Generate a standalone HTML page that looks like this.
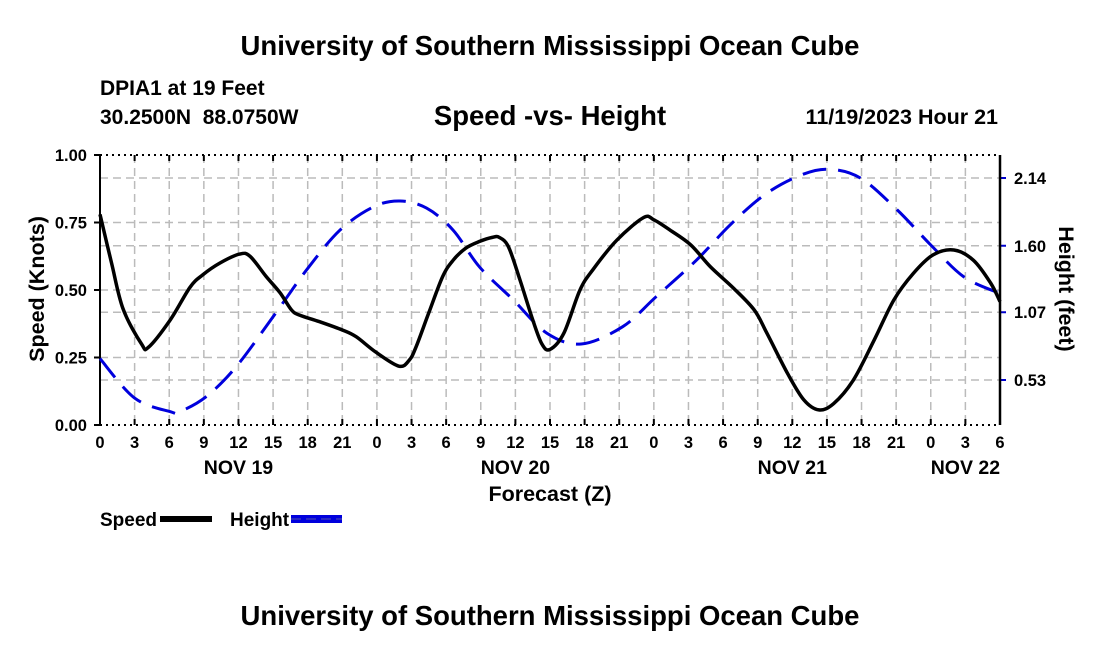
<!DOCTYPE html>
<html><head><meta charset="utf-8"><style>
body{margin:0;background:#fff;width:1100px;height:650px;overflow:hidden}
svg text{font-family:"Liberation Sans",Arial,sans-serif;font-weight:bold;fill:#000}
</style></head><body>
<svg id="chart" width="1100" height="650" xmlns="http://www.w3.org/2000/svg">
<text x="550" y="55" font-size="27.5" text-anchor="middle">University of Southern Mississippi Ocean Cube</text>
<text x="100" y="95" font-size="21">DPIA1 at 19 Feet</text>
<text x="100" y="124" font-size="21">30.2500N&#160;&#160;88.0750W</text>
<text x="550" y="125" font-size="27.5" text-anchor="middle">Speed -vs- Height</text>
<text x="998" y="124" font-size="21.5" text-anchor="end">11/19/2023 Hour 21</text>
<text transform="translate(44,289) rotate(-90)" font-size="21.5" text-anchor="middle">Speed (Knots)</text>
<text transform="translate(1059,289) rotate(90)" font-size="21.5" text-anchor="middle">Height (feet)</text>
<text x="550" y="501" font-size="21.5" text-anchor="middle">Forecast (Z)</text>
<g id="grid"></g><g id="axes"></g><g id="series"></g>
<g>
<text x="100" y="526" font-size="19">Speed</text>
<rect x="160" y="516" width="52" height="6" fill="#000"/>
<text x="230" y="526" font-size="19">Height</text>
<rect x="291" y="515" width="51" height="8" fill="#0000dd"/>
<line x1="291" y1="519" x2="342" y2="519" stroke="#5555aa" stroke-width="1" stroke-dasharray="10 5"/>
</g>
<text x="550" y="625" font-size="27.5" text-anchor="middle">University of Southern Mississippi Ocean Cube</text>
</svg>
<script>
const speedHours=[0,1,2,3.6,4.2,6.1,7.8,8.9,10.4,12.1,13,14.4,15.6,16.6,17.3,19,21,22.2,23.9,25.9,26.8,27.4,28.5,29.7,30.6,31.7,32.9,34,34.6,35.4,36.4,37.5,38.3,39,40.2,41.6,42.8,44.8,47.1,48,49.4,51.2,52.9,54.9,56.7,57.8,59.6,61,62.3,63.6,65.3,67.1,68.8,70.5,72.2,74,75.7,77.2,78];
const speedValues=[0.78,0.6,0.43,0.3,0.288,0.39,0.51,0.556,0.6,0.633,0.625,0.55,0.49,0.426,0.407,0.383,0.352,0.327,0.27,0.218,0.24,0.29,0.416,0.55,0.61,0.655,0.68,0.695,0.695,0.66,0.537,0.39,0.3,0.28,0.34,0.5,0.58,0.685,0.768,0.76,0.722,0.667,0.586,0.507,0.426,0.34,0.19,0.093,0.056,0.08,0.167,0.315,0.463,0.562,0.63,0.648,0.61,0.525,0.457];
const heightHours=[0,3,6.1,6.9,9.2,11.8,15,17.9,20.8,23.7,26,28.3,30.6,32.9,35.8,38.7,41.7,45.3,48.2,51.7,54.6,57.5,60.4,63,65.9,69.1,72,74.9,78];
const heightValues=[0.70,0.386,0.277,0.277,0.397,0.636,1.034,1.407,1.725,1.91,1.957,1.90,1.725,1.43,1.17,0.905,0.817,0.955,1.194,1.486,1.765,2.0,2.15,2.21,2.14,1.885,1.606,1.35,1.22];
const leftTicks=[0,0.25,0.5,0.75,1.0];
const leftTickLabels=["0.00","0.25","0.50","0.75","1.00"];
const rightTicks=[0.53,1.07,1.60,2.14];
const rightTickLabels=["0.53","1.07","1.60","2.14"];
const xTickLabels=["0","3","6","9","12","15","18","21","0","3","6","9","12","15","18","21","0","3","6","9","12","15","18","21","0","3","6"];
const dayLabels=["NOV 19","NOV 20","NOV 21","NOV 22"];
const dayLabelHours=[12,36,60,75];

const X0=100,X1=1000,Y0=425,Y1=155,HMAX=78;
const xs=h=>X0+h/HMAX*(X1-X0);
const ys=v=>Y0-v*(Y0-Y1);
const yh=f=>380-(f-0.53)*(202/1.61);
const NS='http://www.w3.org/2000/svg';
function mk(tag,attrs,parent,txt){const e=document.createElementNS(NS,tag);for(const k in attrs)e.setAttribute(k,attrs[k]);if(txt!==undefined)e.textContent=txt;parent.appendChild(e);return e;}
const grid=document.getElementById('grid'),axes=document.getElementById('axes'),series=document.getElementById('series');
xTickLabels.forEach((l,i)=>{const x=xs(i*3);
 if(i>0&&i<xTickLabels.length-1){const g=mk('line',{x1:x,x2:x,y1:Y1,y2:Y0,stroke:'#bbb','stroke-width':1.5,'stroke-dasharray':'8 5'},grid);
 }
 mk('line',{x1:x,x2:x,y1:Y0,y2:Y0-6,stroke:'#000','stroke-width':2},axes);
 mk('line',{x1:x,x2:x,y1:Y1,y2:Y1+6,stroke:'#000','stroke-width':2},axes);
 const tx=mk('text',{x:x,y:Y0+23,'font-size':16.5,'text-anchor':'middle'},axes,l);
 });
dayLabels.forEach((l,i)=>{const t=mk('text',{x:xs(dayLabelHours[i]),y:Y0+49,'font-size':19.5,'text-anchor':'middle'},axes,l);
 });
leftTicks.forEach((v,i)=>{const y=ys(v);
 if(v>0&&v<1){const g=mk('line',{x1:X0,x2:X1,y1:y,y2:y,stroke:'#bbb','stroke-width':1.5,'stroke-dasharray':'8 5'},grid);
 }
 mk('line',{x1:X0-6,x2:X0,y1:y,y2:y,stroke:'#000','stroke-width':2},axes);
 const t=mk('text',{x:X0-13,y:y+6,'font-size':16.5,'text-anchor':'end'},axes,leftTickLabels[i]);
 });
rightTicks.forEach((v,i)=>{const y=yh(v);
 const g=mk('line',{x1:X0,x2:X1,y1:y,y2:y,stroke:'#bbb','stroke-width':1.5,'stroke-dasharray':'8 5'},grid);
 
 mk('line',{x1:X1,x2:X1+6,y1:y,y2:y,stroke:'#0000cc','stroke-width':2},axes);
 const t=mk('text',{x:X1+14,y:y+6,'font-size':16.5},axes,rightTickLabels[i]);
 });
mk('line',{x1:X0,x2:X1,y1:Y1,y2:Y1,stroke:'#000','stroke-width':2,'stroke-dasharray':'2 4'},axes);
mk('line',{x1:X0,x2:X1,y1:Y0,y2:Y0,stroke:'#000','stroke-width':2,'stroke-dasharray':'2 4'},axes);
const la=mk('line',{x1:X0,x2:X0,y1:Y1,y2:Y0,stroke:'#000','stroke-width':2},axes);

const ra=mk('line',{x1:X1,x2:X1,y1:Y1,y2:Y0,stroke:'#000','stroke-width':2.5},axes);

function smooth(pts){let d=`M${pts[0][0]},${pts[0][1]}`;
 for(let i=0;i<pts.length-1;i++){const p0=pts[Math.max(0,i-1)],p1=pts[i],p2=pts[i+1],p3=pts[Math.min(pts.length-1,i+2)];
 const c1=[p1[0]+(p2[0]-p0[0])/6,p1[1]+(p2[1]-p0[1])/6],c2=[p2[0]-(p3[0]-p1[0])/6,p2[1]-(p3[1]-p1[1])/6];
 d+=` C${c1[0]},${c1[1]} ${c2[0]},${c2[1]} ${p2[0]},${p2[1]}`;}return d;}
const hp=mk('path',{d:smooth(heightHours.map((h,i)=>[xs(h),yh(heightValues[i])])),fill:'none',stroke:'#0000dd','stroke-width':3,'stroke-dasharray':'24 12'},series);

const sp=mk('path',{d:smooth(speedHours.map((h,i)=>[xs(h),ys(speedValues[i])])),fill:'none',stroke:'#000','stroke-width':3.5,'stroke-linejoin':'round'},series);

</script>
</body></html>
